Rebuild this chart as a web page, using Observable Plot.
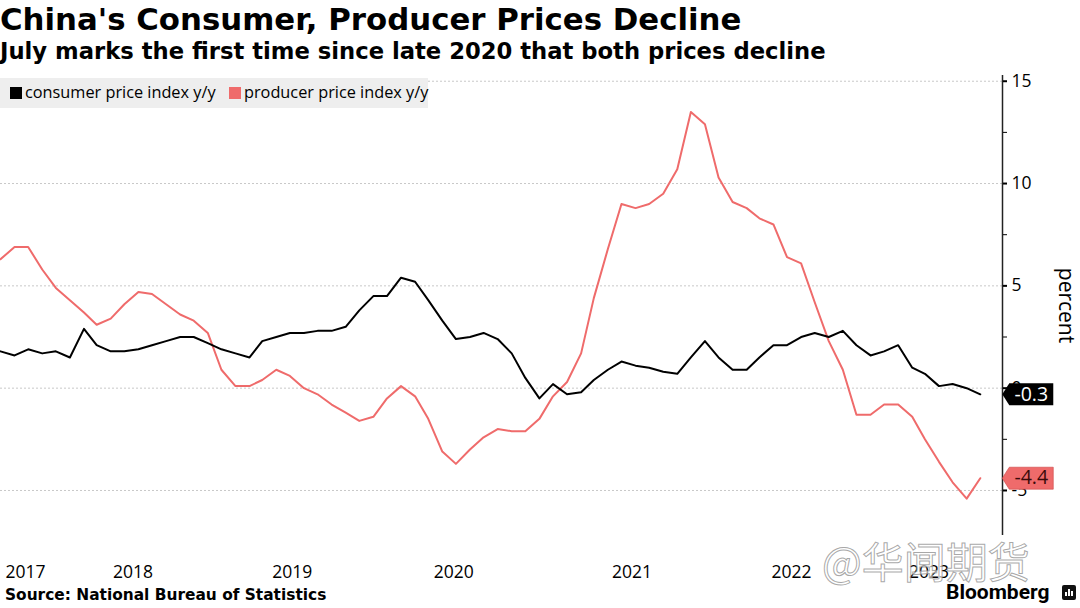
<!DOCTYPE html>
<html>
<head>
<meta charset="utf-8">
<script src="https://cdn.jsdelivr.net/npm/d3@7"></script>
<script src="https://cdn.jsdelivr.net/npm/@observablehq/plot@0.6"></script>
<style>
  body { margin:0; width:1080px; height:608px; position:relative; background:#fff; overflow:hidden; font-family:"Open Sans", sans-serif; }
  .abs { position:absolute; white-space:nowrap; }
  #title { left:0; top:1px; font:bold 30.8px "DejaVu Sans"; color:#000; }
  #subtitle { left:0; top:38px; font:bold 22.7px "DejaVu Sans"; color:#000; }
  #chart { left:0; top:60px; }
  #legend { left:0; top:78px; width:428px; height:30px; background:#eeeeee; font:16.3px "Open Sans"; color:#000; }
  .sw { display:inline-block; width:12px; height:12px; vertical-align:-1px; margin-right:3px; }
  #source { left:5px; top:586px; font:bold 15.4px "DejaVu Sans"; color:#000; }
  #wm { left:822px; top:529px; font:42px "Noto Sans CJK SC"; color:rgba(255,255,255,0.6); -webkit-text-stroke:1px rgba(140,140,140,0.75); }
  #bbg { left:946px; top:580px; font:bold 21px Roboto; color:#000; }
  #bbgicon { left:1062px; top:585px; width:14px; height:15px; background:#111; border-radius:2px; }
  .bar { position:absolute; bottom:4px; width:2px; background:#fff; }
</style>
</head>
<body>
<div class="abs" id="title">China's Consumer, Producer Prices Decline</div>
<div class="abs" id="subtitle">July marks the first time since late 2020 that both prices decline</div>
<div class="abs" id="chart"></div>
<div class="abs" id="legend"></div>
<div class="abs" id="source">Source: National Bureau of Statistics</div>
<div class="abs" id="wm">@华闻期货</div>
<div class="abs" id="bbg">Bloomberg</div>
<div class="abs" id="bbgicon"><span class="bar" style="left:3px;height:4px"></span><span class="bar" style="left:6px;height:7px"></span><span class="bar" style="left:9px;height:5px"></span></div>
<script>
// Monthly series, Aug 2017 – Jul 2023
const startMonth = "2017-08";
const cpi = [
  1.8, 1.6, 1.9, 1.7, 1.8,
  1.5, 2.9, 2.1, 1.8, 1.8, 1.9, 2.1, 2.3, 2.5, 2.5, 2.2, 1.9,
  1.7, 1.5, 2.3, 2.5, 2.7, 2.7, 2.8, 2.8, 3.0, 3.8, 4.5, 4.5,
  5.4, 5.2, 4.3, 3.3, 2.4, 2.5, 2.7, 2.4, 1.7, 0.5, -0.5, 0.2,
  -0.3, -0.2, 0.4, 0.9, 1.3, 1.1, 1.0, 0.8, 0.7, 1.5, 2.3, 1.5,
  0.9, 0.9, 1.5, 2.1, 2.1, 2.5, 2.7, 2.5, 2.8, 2.1, 1.6, 1.8,
  2.1, 1.0, 0.7, 0.1, 0.2, 0.0, -0.3
];
const ppi = [
  6.3, 6.9, 6.9, 5.8, 4.9,
  4.3, 3.7, 3.1, 3.4, 4.1, 4.7, 4.6, 4.1, 3.6, 3.3, 2.7, 0.9,
  0.1, 0.1, 0.4, 0.9, 0.6, 0.0, -0.3, -0.8, -1.2, -1.6, -1.4, -0.5,
  0.1, -0.4, -1.5, -3.1, -3.7, -3.0, -2.4, -2.0, -2.1, -2.1, -1.5, -0.4,
  0.3, 1.7, 4.4, 6.8, 9.0, 8.8, 9.0, 9.5, 10.7, 13.5, 12.9, 10.3,
  9.1, 8.8, 8.3, 8.0, 6.4, 6.1, 4.2, 2.3, 0.9, -1.3, -1.3, -0.8,
  -0.8, -1.4, -2.5, -3.6, -4.6, -5.4, -4.4
];
const seriesNames = ["consumer price index y/y", "producer price index y/y"];
const seriesColors = ["#000000", "#ef6b6b"];
const yTicks = [15, 10, 5, 0, -5];
const yMinorTicks = [12.5, 7.5, 2.5, -2.5];
const yearLabels = ["2017", "2018", "2019", "2020", "2021", "2022", "2023"];
const yearLabelDates = ["2017-09-25", "2018-05-20", "2019-05-06", "2020-04-26", "2021-05-24", "2022-05-11", "2023-03-10"];
const xDomain = ["2017-08-01", "2023-08-19"];
const yDomain = [-7.2, 15.28];

const start = new Date(startMonth + "-01T00:00:00Z");
const months = cpi.map((_, i) => new Date(Date.UTC(start.getUTCFullYear(), start.getUTCMonth() + i, 1)));
const rows = months.map((d, i) => ({date: d, cpi: cpi[i], ppi: ppi[i]}));
const last = rows[rows.length - 1];
const tickDates = yearLabelDates.map(s => new Date(s + "T00:00:00Z"));
const xDom = xDomain.map(s => new Date(s + "T00:00:00Z"));

const tag = {
  draw(ctx) {
    ctx.moveTo(0, 0);
    ctx.lineTo(7, -11);
    ctx.lineTo(51, -11);
    ctx.lineTo(51, 11);
    ctx.lineTo(7, 11);
    ctx.closePath();
  }
};

const fmt = v => (v < 0 ? "-" : "") + Math.abs(v).toFixed(1);

const chart = Plot.plot({
  width: 1080,
  height: 530,
  marginTop: 15,
  marginBottom: 55,
  marginLeft: 0,
  marginRight: 78,
  style: {fontFamily: "Open Sans", fontSize: "17px", color: "#000", background: "transparent", overflow: "visible"},
  x: {type: "utc", domain: xDom},
  y: {domain: yDomain},
  marks: [
    Plot.ruleY(yTicks, {stroke: "#c8c8c8", strokeDasharray: "2,2", strokeWidth: 1}),
    Plot.ruleX([xDom[1]], {stroke: "#222", strokeWidth: 1.5}),
    Plot.axisY({anchor: "right", ticks: yTicks, tickSize: 4, tickPadding: 5, tickFormat: d => String(d), fontSize: 17.5, label: null, strokeWidth: 2}),
    Plot.axisY({anchor: "right", ticks: yMinorTicks, tickSize: 4, tickFormat: () => "", label: null}),
    Plot.axisX({ticks: tickDates, tickFormat: (d, i) => yearLabels[i], tickSize: 0, tickPadding: 30, fontSize: 17.5, label: null}),
    Plot.text(["percent"], {frameAnchor: "right", textAnchor: "middle", rotate: 90, dx: 63, fontSize: 21}),
    Plot.line(rows, {x: "date", y: "ppi", stroke: seriesColors[1], strokeWidth: 2}),
    Plot.line(rows, {x: "date", y: "cpi", stroke: seriesColors[0], strokeWidth: 2}),
    Plot.dot([last], {x: "date", y: "cpi", symbol: tag, fill: seriesColors[0], stroke: null, dx: 22}),
    Plot.dot([last], {x: "date", y: "ppi", symbol: tag, fill: seriesColors[1], stroke: "#c44", strokeWidth: 0.6, dx: 22}),
    Plot.text([last], {x: "date", y: "cpi", text: d => fmt(d.cpi), fill: "#fff", dx: 51, fontSize: 19.5}),
    Plot.text([last], {x: "date", y: "ppi", text: d => fmt(d.ppi), fill: "#3a0a0a", dx: 51, fontSize: 19.5})
  ]
});
document.getElementById("chart").appendChild(chart);

const legend = d3.select("#legend");
seriesNames.forEach((name, i) => {
  const item = legend.append("span").style("position", "absolute").style("top", "3px")
    .style("left", i === 0 ? "10px" : "229px");
  item.append("span").attr("class", "sw").style("background", seriesColors[i]);
  item.append("span").text(name);
});
</script>
</body>
</html>
